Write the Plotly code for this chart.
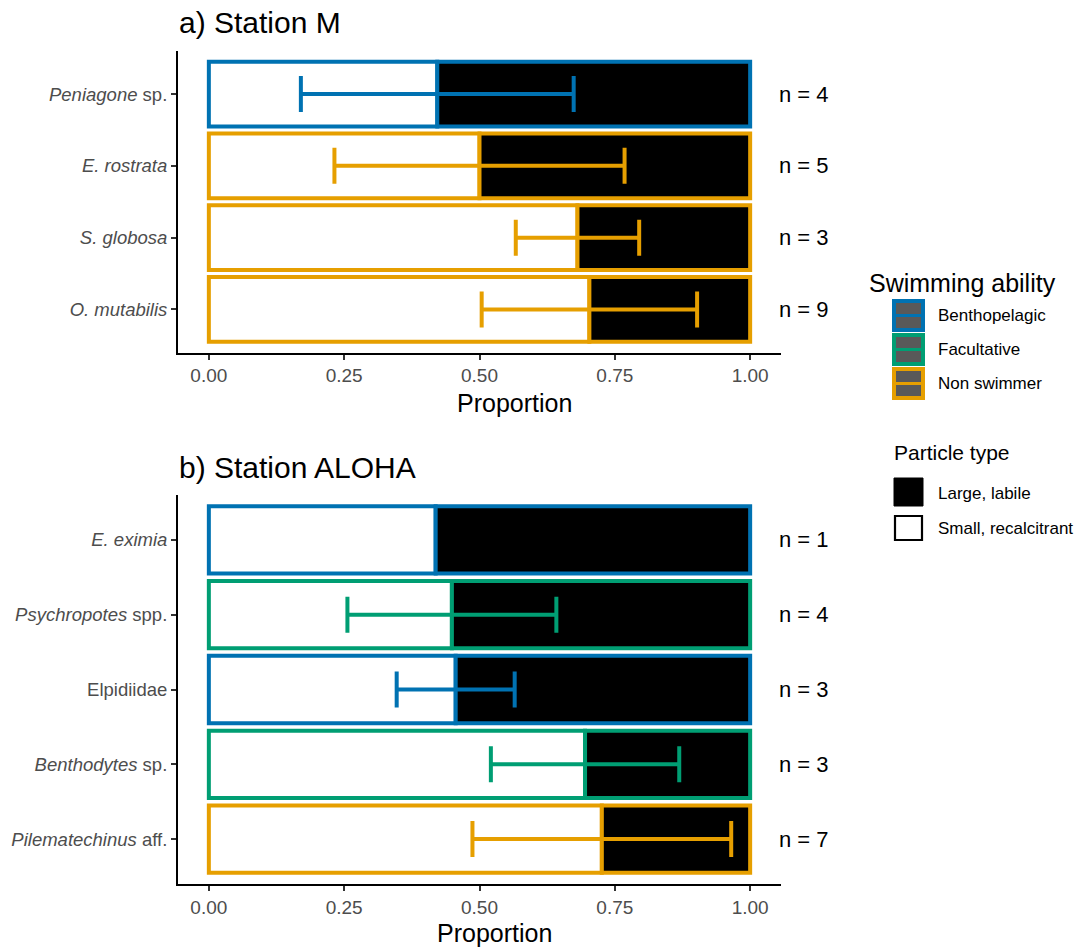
import plotly.graph_objects as go

W, H = 1079, 949
FONT = "Liberation Sans, Arial, sans-serif"

# ---- Station M ----
m_taxa = ["Peniagone sp.", "E. rostrata", "S. globosa", "O. mutabilis"]
m_ticktext = ["<i>Peniagone</i> sp.", "<i>E. rostrata</i>", "<i>S. globosa</i>", "<i>O. mutabilis</i>"]
m_small = [0.422, 0.500, 0.681, 0.703]      # proportion small, recalcitrant
m_se = [0.252, 0.268, 0.114, 0.199]
m_swim = ["Benthopelagic", "Non swimmer", "Non swimmer", "Non swimmer"]
m_n = [4, 5, 3, 9]

# ---- Station ALOHA ----
a_taxa = ["E. eximia", "Psychropotes spp.", "Elpidiidae", "Benthodytes sp.", "Pilematechinus aff."]
a_ticktext = ["<i>E. eximia</i>", "<i>Psychropotes</i> spp.", "Elpidiidae",
              "<i>Benthodytes</i> sp.", "<i>Pilematechinus</i> aff."]
a_small = [0.419, 0.449, 0.456, 0.695, 0.726]
a_se = [None, 0.193, 0.109, 0.174, 0.239]
a_swim = ["Benthopelagic", "Facultative", "Benthopelagic", "Facultative", "Non swimmer"]
a_n = [1, 4, 3, 3, 7]

x_ticks = [0, 0.25, 0.5, 0.75, 1.0]
x_ticktext = ["0.00", "0.25", "0.50", "0.75", "1.00"]

SWIM_COLORS = {"Benthopelagic": "#0072B2", "Facultative": "#009E73", "Non swimmer": "#E69F00"}


def px_x(x):
    return x / W


def px_y(y):
    return 1 - y / H


fig = go.Figure()


def add_panel(taxa, small, se, swim, xa, ya):
    large = [1 - s for s in small]
    edge = [SWIM_COLORS[s] for s in swim]
    fig.add_trace(go.Bar(
        y=taxa, x=small, base=[0] * len(taxa), orientation="h", width=0.9,
        marker=dict(color="white", line=dict(color=edge, width=4)),
        xaxis=xa, yaxis=ya, showlegend=False, name="Small, recalcitrant"))
    fig.add_trace(go.Bar(
        y=taxa, x=large, base=small, orientation="h", width=0.9,
        marker=dict(color="black", line=dict(color=edge, width=4)),
        xaxis=xa, yaxis=ya, showlegend=False, name="Large, labile"))
    for group, color in SWIM_COLORS.items():
        rows = [i for i in range(len(taxa)) if swim[i] == group and se[i] is not None]
        if not rows:
            continue
        fig.add_trace(go.Scatter(
            y=[taxa[i] for i in rows], x=[small[i] for i in rows], mode="markers",
            marker=dict(size=1, color="rgba(0,0,0,0)"),
            error_x=dict(type="data", array=[se[i] for i in rows], symmetric=True,
                         color=color, thickness=4, width=18),
            xaxis=xa, yaxis=ya, showlegend=False, name=group))


add_panel(m_taxa, m_small, m_se, m_swim, "x", "y")
add_panel(a_taxa, a_small, a_se, a_swim, "x2", "y2")

x_dom = [px_x(178), px_x(781)]
xaxis_common = dict(
    domain=x_dom, range=[-0.057, 1.057], tickvals=x_ticks, ticktext=x_ticktext,
    ticks="outside", ticklen=5, tickwidth=1.8, tickcolor="#333333",
    showline=True, linecolor="black", linewidth=2, showgrid=False, zeroline=False,
    tickfont=dict(family=FONT, size=19, color="#4D4D4D"), fixedrange=True)


def yaxis_for(taxa, ticktext, top, bottom, anchor):
    return dict(
        domain=[px_y(bottom), px_y(top)], type="category", categoryorder="array",
        categoryarray=list(reversed(taxa)), tickvals=taxa, ticktext=ticktext,
        range=[-0.6, len(taxa) - 0.4], ticks="outside", ticklen=5, tickwidth=1.8,
        tickcolor="#333333", showline=True, linecolor="black", linewidth=2,
        showgrid=False, zeroline=False, anchor=anchor,
        tickfont=dict(family=FONT, size=18.5, color="#4D4D4D"), fixedrange=True)


annotations = []
shapes = []

# panel titles and axis titles
annotations.append(dict(text="a) Station M", x=px_x(177), y=px_y(22), xref="paper", yref="paper",
                        xanchor="left", yanchor="middle", showarrow=False,
                        font=dict(family=FONT, size=30, color="black")))
annotations.append(dict(text="b) Station ALOHA", x=px_x(177), y=px_y(467), xref="paper", yref="paper",
                        xanchor="left", yanchor="middle", showarrow=False,
                        font=dict(family=FONT, size=30, color="black")))
annotations.append(dict(text="Proportion", x=px_x(514), y=px_y(403), xref="paper", yref="paper",
                        xanchor="center", yanchor="middle", showarrow=False,
                        font=dict(family=FONT, size=25, color="black")))
annotations.append(dict(text="Proportion", x=px_x(494), y=px_y(933), xref="paper", yref="paper",
                        xanchor="center", yanchor="middle", showarrow=False,
                        font=dict(family=FONT, size=25, color="black")))

# sample size labels
for taxa, ns, yref in [(m_taxa, m_n, "y"), (a_taxa, a_n, "y2")]:
    for t, n in zip(taxa, ns):
        annotations.append(dict(text=f"n = {n}", x=px_x(777), y=t, xref="paper", yref=yref,
                                xanchor="left", yanchor="middle", showarrow=False,
                                font=dict(family=FONT, size=22, color="black")))

# legend: swimming ability
annotations.append(dict(text="Swimming ability", x=px_x(867), y=px_y(283), xref="paper", yref="paper",
                        xanchor="left", yanchor="middle", showarrow=False,
                        font=dict(family=FONT, size=25, color="black")))
for i, (label, color) in enumerate(SWIM_COLORS.items()):
    top = 299 + i * 34
    shapes.append(dict(type="rect", xref="paper", yref="paper", x0=px_x(892), x1=px_x(925),
                       y0=px_y(top + 33), y1=px_y(top), fillcolor=color, line=dict(width=0)))
    for a, b in [(4, 15), (18, 29)]:
        shapes.append(dict(type="rect", xref="paper", yref="paper", x0=px_x(896), x1=px_x(921),
                           y0=px_y(top + b), y1=px_y(top + a), fillcolor="#595959", line=dict(width=0)))
    annotations.append(dict(text=label, x=px_x(936), y=px_y(top + 16.5), xref="paper", yref="paper",
                            xanchor="left", yanchor="middle", showarrow=False,
                            font=dict(family=FONT, size=17, color="black")))

# legend: particle type
annotations.append(dict(text="Particle type", x=px_x(892), y=px_y(453), xref="paper", yref="paper",
                        xanchor="left", yanchor="middle", showarrow=False,
                        font=dict(family=FONT, size=21, color="black")))
shapes.append(dict(type="rect", xref="paper", yref="paper", x0=px_x(894), x1=px_x(923),
                   y0=px_y(506), y1=px_y(478), fillcolor="black", line=dict(color="black", width=1)))
shapes.append(dict(type="rect", xref="paper", yref="paper", x0=px_x(895), x1=px_x(922),
                   y0=px_y(540), y1=px_y(516), fillcolor="white", line=dict(color="black", width=2.2)))
annotations.append(dict(text="Large, labile", x=px_x(936), y=px_y(493), xref="paper", yref="paper",
                        xanchor="left", yanchor="middle", showarrow=False,
                        font=dict(family=FONT, size=17, color="black")))
annotations.append(dict(text="Small, recalcitrant", x=px_x(936), y=px_y(528), xref="paper", yref="paper",
                        xanchor="left", yanchor="middle", showarrow=False,
                        font=dict(family=FONT, size=17, color="black")))

fig.update_layout(
    width=W, height=H, margin=dict(l=0, r=0, t=0, b=0),
    paper_bgcolor="white", plot_bgcolor="white", barmode="overlay",
    xaxis=dict(xaxis_common, anchor="y"),
    xaxis2=dict(xaxis_common, anchor="y2"),
    yaxis=yaxis_for(m_taxa, m_ticktext, 51, 352.5, "x"),
    yaxis2=yaxis_for(a_taxa, a_ticktext, 495, 884, "x2"),
    annotations=annotations, shapes=shapes, showlegend=False,
    font=dict(family=FONT),
)

fig.write_html("out.html")
